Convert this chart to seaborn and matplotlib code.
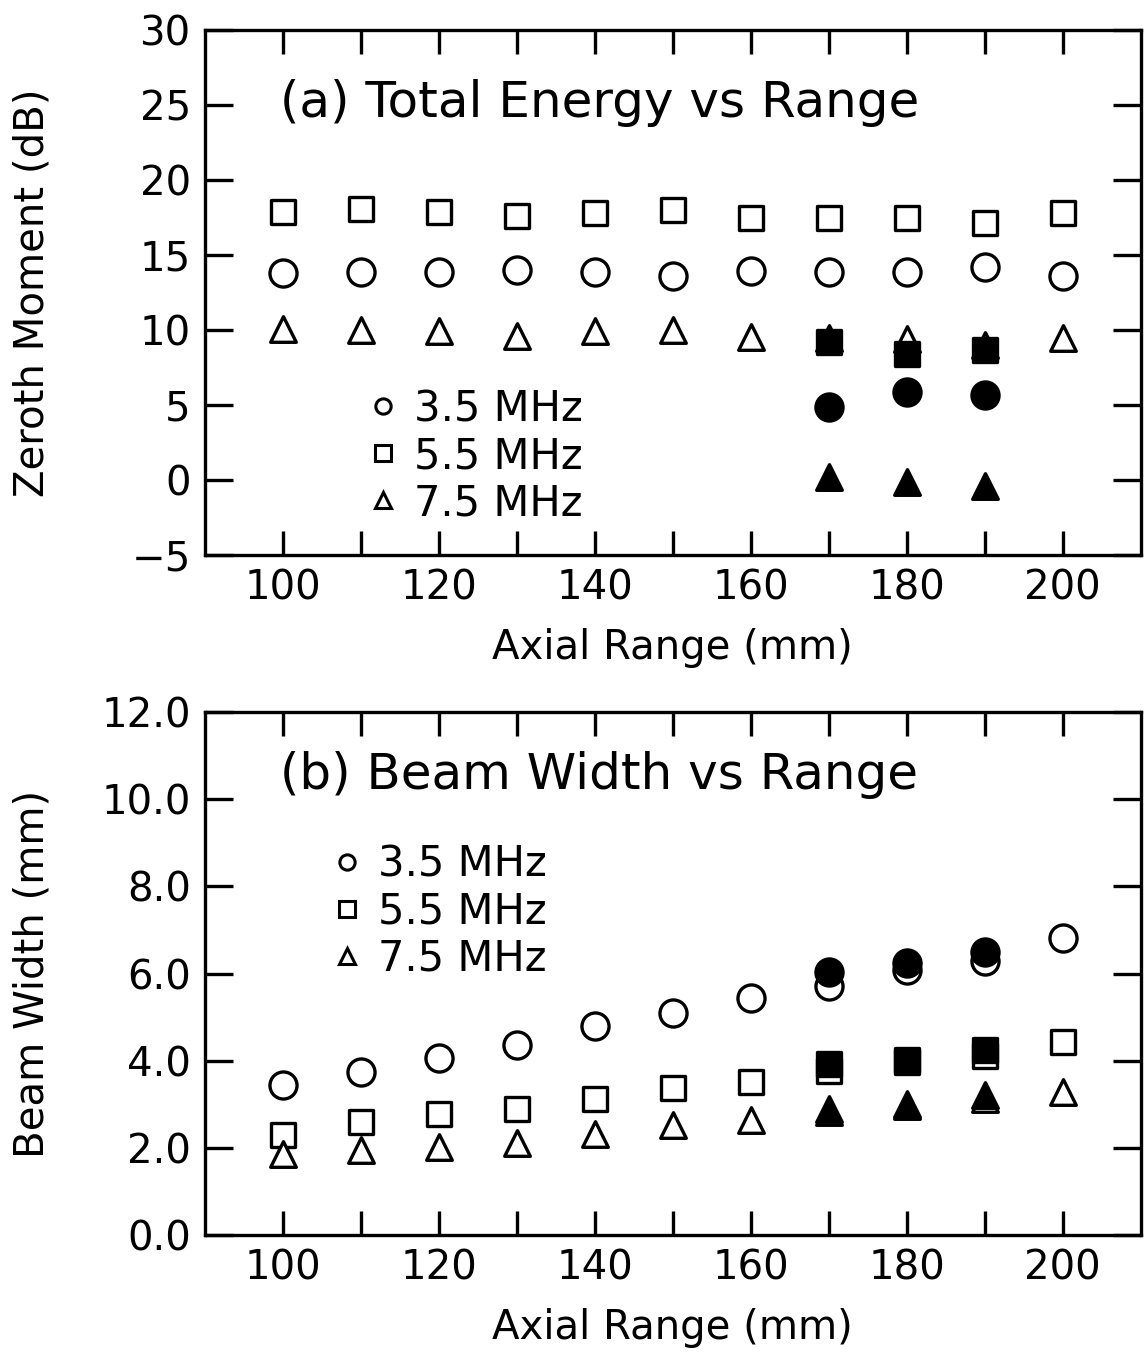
import numpy as np
import pandas as pd
import matplotlib
matplotlib.use("Agg")
import matplotlib.pyplot as plt
from matplotlib.lines import Line2D
import seaborn as sns

# ---------------- data ----------------
axial_range = [100, 110, 120, 130, 140, 150, 160, 170, 180, 190, 200]
filled_range = [170, 180, 190]
freq_labels = ["3.5 MHz", "5.5 MHz", "7.5 MHz"]

# (a) zeroth moment (dB), open markers
energy_35 = [13.8, 13.85, 13.85, 14.0, 13.85, 13.6, 13.95, 13.85, 13.85, 14.2, 13.6]
energy_55 = [17.9, 18.05, 17.9, 17.6, 17.8, 18.0, 17.5, 17.5, 17.5, 17.15, 17.8]
energy_75 = [10.1, 10.0, 9.95, 9.6, 9.95, 10.0, 9.55, 9.5, 9.4, 9.0, 9.5]
# (a) filled markers
energy_35_f = [4.9, 5.9, 5.7]
energy_55_f = [9.2, 8.4, 8.7]
energy_75_f = [0.2, -0.1, -0.4]

# (b) beam width (mm), open markers
width_35 = [3.44, 3.75, 4.06, 4.36, 4.79, 5.09, 5.44, 5.72, 6.08, 6.29, 6.81]
width_55 = [2.29, 2.59, 2.77, 2.90, 3.13, 3.37, 3.51, 3.77, 3.97, 4.10, 4.43]
width_75 = [1.86, 1.95, 2.02, 2.12, 2.32, 2.52, 2.64, 2.82, 2.96, 3.13, 3.28]
# (b) filled markers
width_35_f = [6.04, 6.25, 6.49]
width_55_f = [3.92, 4.01, 4.24]
width_75_f = [2.89, 3.01, 3.21]

x_ticks = [100, 120, 140, 160, 180, 200]
a_yticks = [-5, 0, 5, 10, 15, 20, 25, 30]
b_yticks = [0.0, 2.0, 4.0, 6.0, 8.0, 10.0, 12.0]

# ---------------- style ----------------
sns.set_theme(style="ticks")
plt.rcParams["font.family"] = ["DejaVu Sans"]
plt.rcParams["text.color"] = "black"
plt.rcParams["axes.labelcolor"] = "black"
plt.rcParams["xtick.color"] = "black"
plt.rcParams["ytick.color"] = "black"

FS_TICK = 29
FS_LAB = 29
FS_TITLE = 36
FS_LEG = 30
markers = {"3.5 MHz": "o", "5.5 MHz": "s", "7.5 MHz": "^"}
sizes = {"o": 380, "s": 310, "^": 340}

fig = plt.figure(figsize=(11.44, 13.56), dpi=100)
ax_a = fig.add_axes([0.179, 0.5907, 0.818, 0.387])
ax_b = fig.add_axes([0.179, 0.0892, 0.818, 0.3857])


def draw(ax, open_series, filled_series):
    for lab, vals in zip(freq_labels, open_series):
        m = markers[lab]
        df = pd.DataFrame({"x": axial_range, "y": vals})
        sns.scatterplot(data=df, x="x", y="y", marker=m, s=sizes[m],
                        facecolors="white", edgecolors="black",
                        linewidths=2.4, ax=ax, zorder=3)
    for lab, vals in zip(freq_labels, filled_series):
        m = markers[lab]
        df = pd.DataFrame({"x": filled_range, "y": vals})
        sns.scatterplot(data=df, x="x", y="y", marker=m, s=sizes[m],
                        facecolors="black", edgecolors="black",
                        linewidths=2.4, ax=ax, zorder=4)


def style_axes(ax, yticks, ylim, ylabel, fmt):
    ax.set_xlim(90, 210)
    ax.set_ylim(*ylim)
    ax.set_xticks(x_ticks)
    ax.set_xticks(axial_range, minor=True)
    ax.set_yticks(yticks)
    ax.set_yticklabels([fmt(v) for v in yticks])
    ax.tick_params(which="both", direction="in", top=True, right=True,
                   labelsize=FS_TICK, width=2.4, pad=10, colors="black")
    ax.tick_params(axis="x", which="both", length=17)
    ax.tick_params(axis="y", which="major", length=20)
    ax.set_xlabel("Axial Range (mm)", fontsize=FS_LAB, labelpad=14)
    ax.set_ylabel(ylabel, fontsize=FS_LAB)
    ax.yaxis.set_label_coords(-0.163, 0.5)
    for sp in ax.spines.values():
        sp.set_linewidth(2.4)
        sp.set_color("black")


def legend(ax, anchor):
    handles = [Line2D([], [], linestyle="none", marker=markers[l], markersize=11,
                      markerfacecolor="white", markeredgecolor="black",
                      markeredgewidth=2.2) for l in freq_labels]
    ax.legend(handles, freq_labels, loc="upper left", bbox_to_anchor=anchor,
              frameon=False, fontsize=FS_LEG, handlelength=0.6, handletextpad=0.45,
              labelspacing=0.12, borderaxespad=0)


draw(ax_a, [energy_35, energy_55, energy_75], [energy_35_f, energy_55_f, energy_75_f])
style_axes(ax_a, a_yticks, (-5, 30), "Zeroth Moment (dB)",
           lambda v: f"{v:d}".replace("-", "\u2212"))
ax_a.text(0.08, 0.861, "(a) Total Energy vs Range", transform=ax_a.transAxes,
          fontsize=FS_TITLE, va="center", ha="left")
legend(ax_a, (0.159, 0.35))

draw(ax_b, [width_35, width_55, width_75], [width_35_f, width_55_f, width_75_f])
style_axes(ax_b, b_yticks, (0, 12), "Beam Width (mm)", lambda v: f"{v:.1f}")
ax_b.text(0.08, 0.88, "(b) Beam Width vs Range", transform=ax_b.transAxes,
          fontsize=FS_TITLE, va="center", ha="left")
legend(ax_b, (0.121, 0.78))

fig.savefig("out.png", dpi=100)
